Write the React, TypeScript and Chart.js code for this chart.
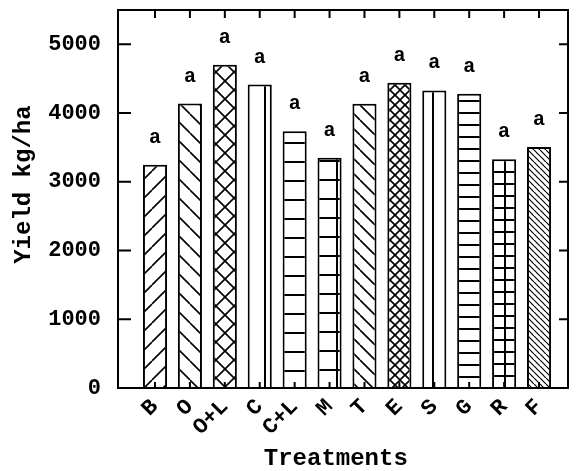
import React, { useEffect, useRef } from 'react';
import { Chart, registerables } from 'chart.js';

Chart.register(...registerables);

// ---- data ----
const categories = ['B', 'O', 'O+L', 'C', 'C+L', 'M', 'T', 'E', 'S', 'G', 'R', 'F'];
const yields = [3250, 4140, 4705, 4415, 3735, 3350, 4135, 4440, 4330, 4280, 3330, 3505];
const groupLetters = ['a', 'a', 'a', 'a', 'a', 'a', 'a', 'a', 'a', 'a', 'a', 'a'];
const yTickValues = [0, 1000, 2000, 3000, 4000, 5000];

// ---- hatch styles (style only) ----
const hatchType = ['fwd', 'back', 'cross', 'vert', 'horiz', 'grid', 'back', 'cross', 'vert', 'horiz', 'grid', 'back'];
const hatchSize = [19, 19, 18, 24, 19, 19, 15, 10, 24, 12, 12, 6];
const hatchPhase = [0, 0, 0, 0, 10, 9, 0, 0, 0, 5, 4, 0];

const FONT = '"Liberation Mono", "Courier New", monospace';

function makeHatch(ctx: CanvasRenderingContext2D, type: string, size: number, phase: number): CanvasPattern | string {
  const c = document.createElement('canvas');
  const w = type === 'vert' || type === 'grid' ? 24 : size;
  const h = type === 'vert' ? 24 : size;
  c.width = w;
  c.height = h;
  const t = c.getContext('2d')!;
  t.fillStyle = '#fff';
  t.fillRect(0, 0, w, h);
  t.fillStyle = '#000';
  t.strokeStyle = '#000';
  t.lineWidth = size <= 6 ? 1.2 : 1.6;
  const s = size;
  if (type === 'fwd' || type === 'cross') {
    t.beginPath();
    for (let k = -1; k <= 1; k++) {
      t.moveTo(k * s, s);
      t.lineTo(k * s + s, 0);
    }
    t.stroke();
  }
  if (type === 'back' || type === 'cross') {
    t.beginPath();
    for (let k = -1; k <= 1; k++) {
      t.moveTo(k * s, 0);
      t.lineTo(k * s + s, s);
    }
    t.stroke();
  }
  if (type === 'vert' || type === 'grid') {
    t.fillRect(0, 0, 2, h);
  }
  if (type === 'horiz' || type === 'grid') {
    t.fillRect(0, phase - 1, w, 2);
  }
  return ctx.createPattern(c, 'repeat') || '#fff';
}

const framePlugin = {
  id: 'frameTicks',
  afterDatasetsDraw(chart: any) {
    const { ctx, chartArea: a, scales } = chart;
    const x = scales.x;
    const y = scales.y;
    ctx.save();
    ctx.strokeStyle = '#000';
    ctx.lineWidth = 2;
    ctx.strokeRect(a.left, a.top, a.right - a.left, a.bottom - a.top);
    ctx.beginPath();
    yTickValues.forEach((v) => {
      const py = y.getPixelForValue(v);
      ctx.moveTo(a.left, py);
      ctx.lineTo(a.left + 13, py);
      ctx.moveTo(a.right, py);
      ctx.lineTo(a.right - 9, py);
    });
    categories.forEach((_, i) => {
      const px = x.getPixelForValue(i + 1);
      ctx.moveTo(px, a.top);
      ctx.lineTo(px, a.top + 8);
      ctx.moveTo(px, a.bottom);
      ctx.lineTo(px, a.bottom - 6);
    });
    ctx.stroke();

    const meta = chart.getDatasetMeta(0);
    ctx.font = `bold 20px ${FONT}`;
    ctx.textAlign = 'center';
    ctx.textBaseline = 'middle';
    ctx.fillStyle = '#000';
    meta.data.forEach((bar: any, i: number) => {
      ctx.fillText(groupLetters[i], bar.x, bar.y - 27);
    });
    ctx.restore();
  },
};

export default function App() {
  const canvasRef = useRef<HTMLCanvasElement | null>(null);

  useEffect(() => {
    const canvas = canvasRef.current;
    if (!canvas) return;
    const ctx = canvas.getContext('2d')!;
    const patterns = categories.map((_, i) => makeHatch(ctx, hatchType[i], hatchSize[i], hatchPhase[i]));

    const chart = new Chart(canvas, {
      type: 'bar',
      data: {
        datasets: [
          {
            data: yields.map((v, i) => ({ x: i + 1, y: v })),
            backgroundColor: patterns as any,
            borderColor: '#000',
            borderWidth: 2,
            borderSkipped: 'bottom',
            barPercentage: 0.69,
            categoryPercentage: 1,
          },
        ],
      },
      options: {
        responsive: false,
        animation: false,
        devicePixelRatio: 1,
        layout: { padding: { top: 10, right: 9, left: 0, bottom: 0 } },
        plugins: { legend: { display: false }, tooltip: { enabled: false } },
        scales: {
          x: {
            type: 'linear',
            min: -0.06,
            max: 12.83,
            offset: false,
            grid: { display: false, drawTicks: false },
            border: { display: false },
            ticks: {
              stepSize: 1,
              includeBounds: false,
              autoSkip: false,
              minRotation: 45,
              maxRotation: 45,
              padding: 6,
              color: '#000',
              font: { family: FONT, size: 22, weight: 'bold' },
              callback: (v: any) => {
                const n = Number(v);
                const i = Math.round(n);
                return Math.abs(n - i) < 1e-6 && i >= 1 && i <= categories.length ? categories[i - 1] : '';
              },
            },
            title: {
              display: true,
              text: 'Treatments ',
              color: '#000',
              font: { family: FONT, size: 24, weight: 'bold' },
              padding: { top: 0, bottom: -2 },
            },
            afterFit: (s: any) => {
              s.height = 83;
              s.paddingLeft = 0;
              s.paddingRight = 0;
            },
          } as any,
          y: {
            type: 'linear',
            min: 0,
            max: 5500,
            grid: { display: false, drawTicks: false },
            border: { display: false },
            afterBuildTicks: (s: any) => {
              s.ticks = yTickValues.map((v) => ({ value: v }));
            },
            ticks: {
              autoSkip: false,
              padding: 17,
              color: '#000',
              font: { family: FONT, size: 22, weight: 'bold' },
              callback: (v: any) => String(v),
            },
            title: {
              display: true,
              text: '  Yield kg/ha',
              color: '#000',
              font: { family: FONT, size: 24, weight: 'bold' },
              padding: { top: 10, bottom: 0 },
            },
            afterFit: (s: any) => {
              s.width = 118;
              s.paddingTop = 0;
              s.paddingBottom = 0;
            },
          } as any,
        },
      },
      plugins: [framePlugin],
    });

    return () => chart.destroy();
  }, []);

  return (
    <div style={{ position: 'fixed', left: 0, top: 0, width: 577, height: 471, background: '#fff' }}>
      <canvas ref={canvasRef} width={577} height={471} style={{ display: 'block', width: 577, height: 471 }} />
    </div>
  );
}
